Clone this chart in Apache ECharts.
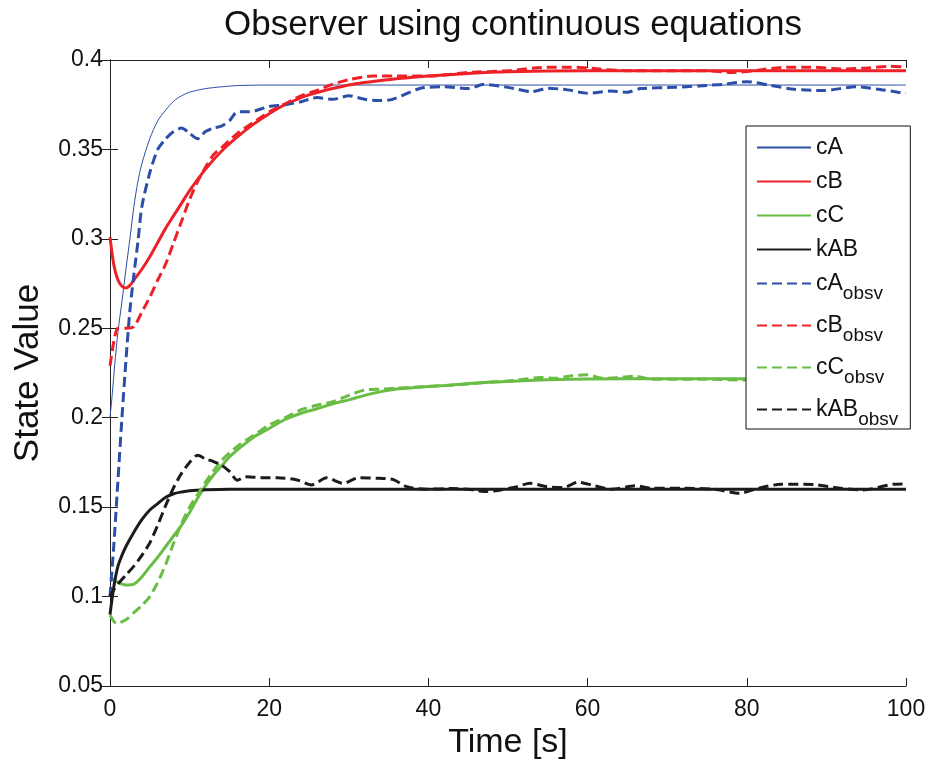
<!DOCTYPE html>
<html>
<head>
<meta charset="utf-8">
<script src="https://cdn.jsdelivr.net/npm/echarts@6/dist/echarts.min.js"></script>
<style>html,body{margin:0;padding:0;background:#fff;}#c{width:930px;height:760px;}</style>
</head>
<body>
<div id="c"></div>
<script>
// ---- Data ----
const titleText = 'Observer using continuous equations';
const xTicks = [0, 20, 40, 60, 80, 100];
const yTicks = [0.05, 0.1, 0.15, 0.2, 0.25, 0.3, 0.35, 0.4];

const tCA = [0,0.3,0.6,1,1.5,2,2.5,3,3.5,4,5,6,7,8,9,10,12,14,16,20,30,100];
const vCA = [0.2,0.214,0.23,0.248,0.265,0.283,0.3,0.318,0.332,0.342,0.356,0.366,0.372,0.377,0.38,0.382,0.384,0.385,0.3857,0.386,0.386,0.386];

const tCB = [0,0.5,1,1.5,2,2.5,3,4,5,6,7,8,9,10,12,14,16,18,20,22,25,30,35,40,45,50,60,70,80,90,100];
const vCB = [0.301,0.285,0.277,0.2735,0.2725,0.274,0.277,0.283,0.29,0.298,0.306,0.313,0.32,0.327,0.339,0.349,0.357,0.364,0.37,0.375,0.3805,0.386,0.389,0.391,0.3925,0.3935,0.394,0.394,0.394,0.394,0.394];

const tCC = [0,1,2,3,4,5,6,7,8,9,10,11,12,13,14,15,16,18,20,22,24,26,28,30,32,34,36,38,42,46,50,55,60,70,80,90,100];
const vCC = [0.111,0.108,0.1065,0.107,0.111,0.1167,0.122,0.128,0.134,0.14,0.147,0.155,0.162,0.168,0.173,0.178,0.182,0.189,0.194,0.199,0.2025,0.205,0.2078,0.21,0.2125,0.2146,0.216,0.2168,0.218,0.2194,0.2203,0.2212,0.2217,0.2218,0.2218,0.2218,0.2218];

const tKAB = [0,0.5,1,1.5,2,3,4,5,6,7,8,9,10,12,15,20,100];
const vKAB = [0.09,0.106,0.117,0.123,0.128,0.136,0.143,0.1484,0.152,0.1555,0.1575,0.1585,0.1592,0.1597,0.16,0.16,0.16];

const tCAo = [0,0.5,1,1.5,2,2.5,3,3.5,4,5,6,7,8,9,10,11,12,13,14,15,16,17.5,20,22,24,26,28,30,32,34,35.5,39,42,45,47,50,53,55,57.5,60,62.8,65,66.6,71,74,77,80,83,86,89.6,93.8,96.3,99,100];
const vCAo = [0.1,0.13,0.165,0.2,0.232,0.26,0.28,0.298,0.318,0.337,0.35,0.356,0.36,0.362,0.359,0.356,0.36,0.362,0.363,0.366,0.371,0.371,0.374,0.375,0.3767,0.379,0.378,0.38,0.378,0.3773,0.378,0.3842,0.385,0.384,0.3864,0.3847,0.3823,0.3842,0.3833,0.3814,0.3826,0.382,0.384,0.3847,0.3855,0.3864,0.3879,0.3858,0.3836,0.3829,0.3851,0.3838,0.382,0.3815];

const tCBo = [0,0.5,1,2,3,4,5,6,7,8,9,10,11,12,13,14,16,18,20,22,24,26,28,30,33,36,40,45,50,55,58,60,65,70,75,78,80,85,88,92,95,98,100];
const vCBo = [0.229,0.243,0.25,0.25,0.251,0.259,0.2675,0.277,0.286,0.298,0.31,0.322,0.332,0.34,0.347,0.351,0.359,0.365,0.371,0.3755,0.38,0.383,0.3865,0.389,0.391,0.391,0.391,0.393,0.394,0.396,0.396,0.3955,0.394,0.394,0.394,0.393,0.3935,0.396,0.396,0.395,0.3955,0.3965,0.396];

const tCCo = [0,0.8,2,3,4,5,6,7,8,9,10,11,12,14,16,18,20,22,24,26,28,30,32,34,36,38,40,44,48,50,52,54,56,58,60,62,64,66,68,70,75,80,85,90,95,100];
const vCCo = [0.0897,0.085,0.087,0.091,0.095,0.1,0.108,0.118,0.13,0.141,0.15,0.157,0.164,0.176,0.184,0.19,0.196,0.2,0.2045,0.207,0.209,0.2125,0.2155,0.216,0.2165,0.217,0.2175,0.2185,0.22,0.2205,0.2215,0.2225,0.222,0.2235,0.224,0.222,0.2225,0.2232,0.2215,0.2215,0.2215,0.221,0.2215,0.221,0.2215,0.221];

const tKABo = [0,0.5,1,2,3,4,5,6,7,8,9,10,11,12,13,14,15,16,17,19,21,23.5,25.3,27.2,29.3,31.2,33.9,35.6,37.3,39.7,43,45,47.3,50.7,52.8,54.9,57,58.8,60.8,63,66,68,72,76,79.1,81,84.3,88.5,91,94.6,98.4,100];
const vKABo = [0.1,0.104,0.107,0.112,0.117,0.123,0.13,0.14,0.151,0.161,0.169,0.175,0.179,0.177,0.1755,0.1735,0.17,0.165,0.167,0.1665,0.1665,0.1652,0.1624,0.1664,0.1633,0.1664,0.1661,0.1654,0.1614,0.16,0.1604,0.16,0.1587,0.161,0.1633,0.1614,0.161,0.164,0.162,0.16,0.162,0.1605,0.1605,0.16,0.1577,0.16,0.1628,0.1626,0.161,0.1596,0.1628,0.163];

// ---- Build ----
const zip = (t, v) => t.map((x, i) => [x, v[i]]);
const BLUE = '#2b4ea6', RED = '#ee2128', GREEN = '#69bd45', BLACK = '#1b1b1b';
const DASH = [10, 5];
const FONT = 'Liberation Sans, Arial, Helvetica, sans-serif';

function line(name, t, v, color, width, dashed, smooth) {
  return {
    name, type: 'line', data: zip(t, v), showSymbol: false, symbol: 'none',
    smooth: smooth, xAxisIndex: 0, yAxisIndex: 0,
    lineStyle: { color, width, type: dashed ? DASH : 'solid', cap: 'butt' },
    itemStyle: { color },
    emphasis: { disabled: true }, animation: false
  };
}

const series = [
  line('cA', tCA, vCA, BLUE, 1, false, 0.3),
  line('cB', tCB, vCB, RED, 3, false, 0.3),
  line('cC', tCC, vCC, GREEN, 3, false, 0.3),
  line('kAB', tKAB, vKAB, BLACK, 3, false, 0.3),
  line('cA_obsv', tCAo, vCAo, BLUE, 3, true, 0.25),
  line('cB_obsv', tCBo, vCBo, RED, 3, true, 0.25),
  line('cC_obsv', tCCo, vCCo, GREEN, 3, true, 0.25),
  line('kAB_obsv', tKABo, vKABo, BLACK, 3, true, 0.25)
];

const axisLine = { show: true, lineStyle: { color: '#222', width: 1 } };
const tick = { show: true, inside: true, length: 8, lineStyle: { color: '#222', width: 1 } };

const chart = echarts.init(document.getElementById('c'), null, { renderer: 'canvas' });
chart.setOption({
  animation: false,
  backgroundColor: '#fff',
  title: {
    text: titleText, left: 508, top: 3, textAlign: 'center',
    textStyle: { fontFamily: FONT, fontSize: 35, fontWeight: 'normal', color: '#111' }
  },
  grid: { left: 110, right: 24, top: 60, bottom: 74, containLabel: false, outerBoundsMode: 'none' },
  xAxis: [
    {
      type: 'value', min: xTicks[0], max: xTicks[xTicks.length - 1], interval: 20,
      name: 'Time [s]', nameLocation: 'middle', nameGap: 32,
      nameTextStyle: { fontFamily: FONT, fontSize: 34, color: '#111', verticalAlign: 'top' },
      axisLine, axisTick: tick, splitLine: { show: false },
      axisLabel: { fontFamily: FONT, fontSize: 23, color: '#111', margin: 12 }
    },
    {
      type: 'value', position: 'top', min: xTicks[0], max: xTicks[xTicks.length - 1], interval: 20,
      axisLine, axisTick: tick, splitLine: { show: false }, axisLabel: { show: false }
    }
  ],
  yAxis: [
    {
      type: 'value', min: yTicks[0], max: yTicks[yTicks.length - 1], interval: 0.05,
      name: 'State Value', nameLocation: 'middle', nameGap: 64, nameRotate: 90,
      nameTextStyle: { fontFamily: FONT, fontSize: 35, color: '#111' },
      axisLine, axisTick: tick, splitLine: { show: false },
      axisLabel: { fontFamily: FONT, fontSize: 23, color: '#111', margin: 7,
        formatter: v => String(+v.toFixed(2)) }
    },
    {
      type: 'value', position: 'right', min: yTicks[0], max: yTicks[yTicks.length - 1], interval: 0.05,
      axisLine, axisTick: tick, splitLine: { show: false }, axisLabel: { show: false }
    }
  ],
  legend: {
    orient: 'vertical', left: 746, top: 126,
    padding: [10, 12, 0, 10], itemGap: 11, itemWidth: 54, itemHeight: 12,
    backgroundColor: '#fff', borderColor: '#111', borderWidth: 1, borderRadius: 0,
    selectedMode: false, z: 10,
    itemStyle: { color: 'rgba(0,0,0,0)', borderColor: 'rgba(0,0,0,0)', borderWidth: 0, opacity: 0 },
    data: series.map(s => s.name),
    formatter: name => {
      if (name.endsWith('_obsv')) return '{m|' + name.replace('_obsv', '') + '}{s|obsv}';
      return '{m|' + name + '}';
    },
    textStyle: {
      fontFamily: FONT, fontSize: 23, color: '#111', padding: [0, 0, 0, 0],
      rich: {
        m: { fontFamily: FONT, fontSize: 23, color: '#111' },
        s: { fontFamily: FONT, fontSize: 19, color: '#111', padding: [20, 0, 0, 0] }
      }
    }
  },
  series
});
</script>
</body>
</html>
